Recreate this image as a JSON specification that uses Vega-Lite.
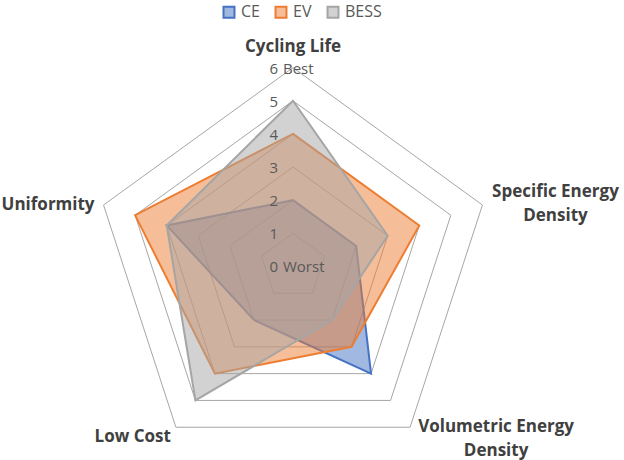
{
  "$schema": "https://vega.github.io/schema/vega-lite/v6.json",
  "width": 624,
  "height": 460,
  "autosize": {"type": "fit", "contains": "padding"},
  "padding": 0,
  "datasets": {
    "scores": [
      {"series": "CE", "axis": "Cycling Life", "k": 0, "v": 2},
      {"series": "CE", "axis": "Specific Energy Density", "k": 1, "v": 2},
      {"series": "CE", "axis": "Volumetric Energy Density", "k": 2, "v": 4},
      {"series": "CE", "axis": "Low Cost", "k": 3, "v": 2},
      {"series": "CE", "axis": "Uniformity", "k": 4, "v": 4},
      {"series": "EV", "axis": "Cycling Life", "k": 0, "v": 4},
      {"series": "EV", "axis": "Specific Energy Density", "k": 1, "v": 4},
      {"series": "EV", "axis": "Volumetric Energy Density", "k": 2, "v": 3},
      {"series": "EV", "axis": "Low Cost", "k": 3, "v": 4},
      {"series": "EV", "axis": "Uniformity", "k": 4, "v": 5},
      {"series": "BESS", "axis": "Cycling Life", "k": 0, "v": 5},
      {"series": "BESS", "axis": "Specific Energy Density", "k": 1, "v": 3},
      {"series": "BESS", "axis": "Volumetric Energy Density", "k": 2, "v": 2},
      {"series": "BESS", "axis": "Low Cost", "k": 3, "v": 5},
      {"series": "BESS", "axis": "Uniformity", "k": 4, "v": 4}
    ],
    "rings": [
      {"v": 1, "k": 0}, {"v": 1, "k": 1}, {"v": 1, "k": 2}, {"v": 1, "k": 3}, {"v": 1, "k": 4},
      {"v": 2, "k": 0}, {"v": 2, "k": 1}, {"v": 2, "k": 2}, {"v": 2, "k": 3}, {"v": 2, "k": 4},
      {"v": 3, "k": 0}, {"v": 3, "k": 1}, {"v": 3, "k": 2}, {"v": 3, "k": 3}, {"v": 3, "k": 4},
      {"v": 4, "k": 0}, {"v": 4, "k": 1}, {"v": 4, "k": 2}, {"v": 4, "k": 3}, {"v": 4, "k": 4},
      {"v": 5, "k": 0}, {"v": 5, "k": 1}, {"v": 5, "k": 2}, {"v": 5, "k": 3}, {"v": 5, "k": 4},
      {"v": 6, "k": 0}, {"v": 6, "k": 1}, {"v": 6, "k": 2}, {"v": 6, "k": 3}, {"v": 6, "k": 4}
    ],
    "levels": [
      {"v": 0, "k": 0, "note": "Worst"},
      {"v": 1, "k": 0, "note": ""},
      {"v": 2, "k": 0, "note": ""},
      {"v": 3, "k": 0, "note": ""},
      {"v": 4, "k": 0, "note": ""},
      {"v": 5, "k": 0, "note": ""},
      {"v": 6, "k": 0, "note": "Best"}
    ],
    "labels": [
      {"label": ["Cycling Life"], "k": 0, "v": 6},
      {"label": ["Specific Energy", "Density"], "k": 1, "v": 6},
      {"label": ["Volumetric Energy", "Density"], "k": 2, "v": 6},
      {"label": ["Low Cost"], "k": 3, "v": 6},
      {"label": ["Uniformity"], "k": 4, "v": 6}
    ]
  },
  "encoding": {
    "x": {"field": "px", "type": "quantitative", "scale": {"domain": [-8.825, 9.97], "nice": false, "zero": false}, "axis": null},
    "y": {"field": "py", "type": "quantitative", "scale": {"domain": [-5.813, 8.042], "nice": false, "zero": false}, "axis": null}
  },
  "layer": [
    {
      "data": {"name": "rings"},
      "transform": [
        {"calculate": "datum.v * sin(datum.k * 2 * PI / 5)", "as": "px"},
        {"calculate": "datum.v * cos(datum.k * 2 * PI / 5)", "as": "py"}
      ],
      "mark": {"type": "line", "interpolate": "linear-closed", "stroke": "#A6A6A6", "strokeWidth": 1},
      "encoding": {
        "detail": {"field": "v", "type": "nominal"},
        "order": {"field": "k", "type": "quantitative"}
      }
    },
    {
      "data": {"name": "scores"},
      "transform": [
        {"calculate": "datum.v * sin(datum.k * 2 * PI / 5)", "as": "px"},
        {"calculate": "datum.v * cos(datum.k * 2 * PI / 5)", "as": "py"}
      ],
      "mark": {"type": "line", "interpolate": "linear-closed", "strokeWidth": 2},
      "encoding": {
        "order": {"field": "k", "type": "quantitative"},
        "stroke": {
          "field": "series", "type": "nominal",
          "scale": {"domain": ["CE", "EV", "BESS"], "range": ["#4472C4", "#ED7D31", "#A5A5A5"]},
          "legend": {"orient": "none", "legendX": 221, "legendY": 4, "direction": "horizontal", "title": null,
            "symbolType": "square", "symbolSize": 120, "symbolStrokeWidth": 2, "labelFontSize": 16,
            "labelColor": "#595959", "labelFont": "Open Sans", "columnPadding": 11, "labelOffset": 4, "padding": 0}
        },
        "fill": {
          "field": "series", "type": "nominal",
          "scale": {"domain": ["CE", "EV", "BESS"], "range": ["rgba(68,114,196,0.5)", "rgba(237,125,49,0.5)", "rgba(165,165,165,0.5)"]},
          "legend": {"orient": "none", "legendX": 221, "legendY": 4, "direction": "horizontal", "title": null,
            "symbolType": "square", "symbolSize": 120, "symbolStrokeWidth": 2, "labelFontSize": 16,
            "labelColor": "#595959", "labelFont": "Open Sans", "columnPadding": 11, "labelOffset": 4, "padding": 0}
        }
      }
    },
    {
      "data": {"name": "levels"},
      "transform": [
        {"calculate": "datum.v * sin(datum.k * 2 * PI / 5)", "as": "px"},
        {"calculate": "datum.v * cos(datum.k * 2 * PI / 5)", "as": "py"}
      ],
      "mark": {"type": "text", "align": "right", "baseline": "middle", "dx": -15, "dy": 1, "font": "Open Sans", "fontSize": 15, "fill": "#595959"},
      "encoding": {"text": {"field": "v", "type": "quantitative"}}
    },
    {
      "data": {"name": "levels"},
      "transform": [
        {"filter": "datum.note != ''"},
        {"calculate": "datum.v * sin(datum.k * 2 * PI / 5)", "as": "px"},
        {"calculate": "datum.v * cos(datum.k * 2 * PI / 5)", "as": "py"}
      ],
      "mark": {"type": "text", "align": "left", "baseline": "middle", "dx": -10, "dy": 1, "font": "Open Sans", "fontSize": 15, "fill": "#595959"},
      "encoding": {"text": {"field": "note", "type": "nominal"}}
    },
    {
      "data": {"name": "labels"},
      "transform": [
        {"filter": "datum.k == 0"},
        {"calculate": "datum.v * sin(datum.k * 2 * PI / 5)", "as": "px"},
        {"calculate": "datum.v * cos(datum.k * 2 * PI / 5)", "as": "py"}
      ],
      "mark": {"type": "text", "align": "center", "baseline": "middle", "dy": -21, "font": "Open Sans", "fontSize": 17, "fontWeight": "bold", "fill": "#404040"},
      "encoding": {"text": {"field": "label"}}
    },
    {
      "data": {"name": "labels"},
      "transform": [
        {"filter": "datum.k == 1"},
        {"calculate": "datum.v * sin(datum.k * 2 * PI / 5)", "as": "px"},
        {"calculate": "datum.v * cos(datum.k * 2 * PI / 5)", "as": "py"}
      ],
      "mark": {"type": "text", "align": "center", "baseline": "middle", "dx": 73, "dy": -13, "lineHeight": 24, "font": "Open Sans", "fontSize": 17, "fontWeight": "bold", "fill": "#404040"},
      "encoding": {"text": {"field": "label"}}
    },
    {
      "data": {"name": "labels"},
      "transform": [
        {"filter": "datum.k == 2"},
        {"calculate": "datum.v * sin(datum.k * 2 * PI / 5)", "as": "px"},
        {"calculate": "datum.v * cos(datum.k * 2 * PI / 5)", "as": "py"}
      ],
      "mark": {"type": "text", "align": "center", "baseline": "middle", "dx": 86, "dy": 0, "lineHeight": 24, "font": "Open Sans", "fontSize": 17, "fontWeight": "bold", "fill": "#404040"},
      "encoding": {"text": {"field": "label"}}
    },
    {
      "data": {"name": "labels"},
      "transform": [
        {"filter": "datum.k == 3"},
        {"calculate": "datum.v * sin(datum.k * 2 * PI / 5)", "as": "px"},
        {"calculate": "datum.v * cos(datum.k * 2 * PI / 5)", "as": "py"}
      ],
      "mark": {"type": "text", "align": "right", "baseline": "middle", "dx": -5, "dy": 10, "font": "Open Sans", "fontSize": 17, "fontWeight": "bold", "fill": "#404040"},
      "encoding": {"text": {"field": "label"}}
    },
    {
      "data": {"name": "labels"},
      "transform": [
        {"filter": "datum.k == 4"},
        {"calculate": "datum.v * sin(datum.k * 2 * PI / 5)", "as": "px"},
        {"calculate": "datum.v * cos(datum.k * 2 * PI / 5)", "as": "py"}
      ],
      "mark": {"type": "text", "align": "right", "baseline": "middle", "dx": -9, "dy": 0, "font": "Open Sans", "fontSize": 17, "fontWeight": "bold", "fill": "#404040"},
      "encoding": {"text": {"field": "label"}}
    }
  ],
  "config": {"view": {"stroke": null}}
}
